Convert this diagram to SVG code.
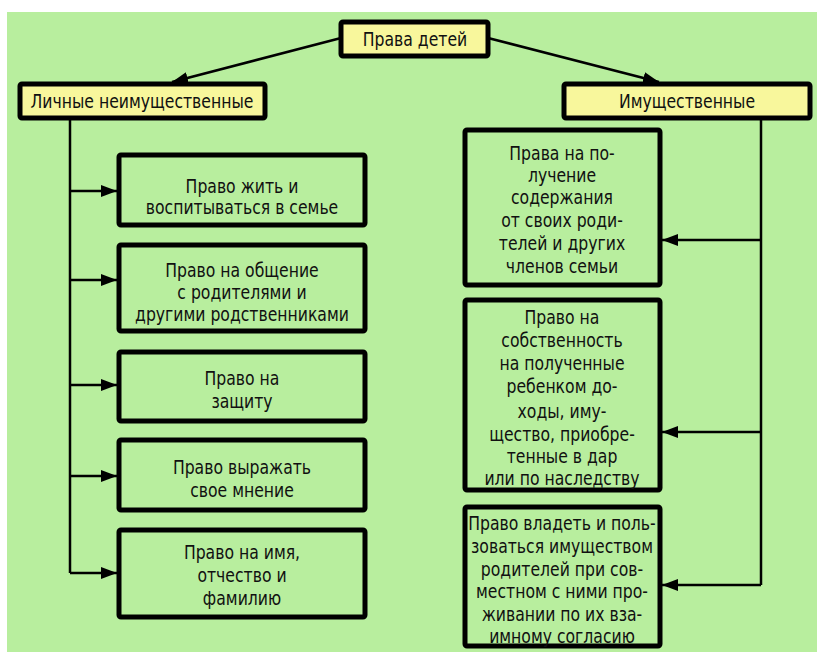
<svg xmlns="http://www.w3.org/2000/svg" width="817" height="653" viewBox="0 0 817 653">
<defs>
<style>
.bg{fill:#b8ee9e}
.box{fill:#b8ee9e;stroke:#000;stroke-width:5}
.ybox{fill:#f8f79c;stroke:#000;stroke-width:5}
.t{font-family:"DejaVu Sans Condensed","DejaVu Sans",sans-serif;font-stretch:condensed;font-size:20px;fill:#111;text-anchor:middle}
.c{stroke:#000;stroke-width:2.5;fill:none}
</style>
<marker id="ah" viewBox="0 0 16 12" refX="16" refY="6" markerWidth="16" markerHeight="12" markerUnits="userSpaceOnUse" orient="auto"><path d="M0,0 L16,6 L0,12 z" fill="#000"/></marker>
</defs>
<rect x="0" y="0" width="817" height="653" fill="#fff"/>
<rect class="bg" x="7" y="12" width="810" height="640"/>
<g id="connectors">
<line class="c" x1="341" y1="38" x2="172" y2="82" marker-end="url(#ah)"/>
<line class="c" x1="488" y1="38" x2="659" y2="82" marker-end="url(#ah)"/>
<polyline class="c" points="70,118 70,573"/>
<line class="c" x1="70" y1="191" x2="117" y2="191" marker-end="url(#ah)"/>
<line class="c" x1="70" y1="280" x2="117" y2="280" marker-end="url(#ah)"/>
<line class="c" x1="70" y1="385" x2="117" y2="385" marker-end="url(#ah)"/>
<line class="c" x1="70" y1="476" x2="117" y2="476" marker-end="url(#ah)"/>
<line class="c" x1="70" y1="573" x2="117" y2="573" marker-end="url(#ah)"/>
<polyline class="c" points="761,118 761,585"/>
<line class="c" x1="761" y1="240" x2="662" y2="240" marker-end="url(#ah)"/>
<line class="c" x1="761" y1="432" x2="662" y2="432" marker-end="url(#ah)"/>
<line class="c" x1="761" y1="585" x2="662" y2="585" marker-end="url(#ah)"/>
</g>
<g id="root">
<rect class="ybox" x="341" y="22" width="147" height="34" rx="2"/>
<text class="t" transform="translate(415,46) scale(0.87,1)">Права детей</text>
</g>
<g id="personal">
<rect class="ybox" x="20" y="84" width="245" height="34" rx="2"/>
<text class="t" transform="translate(142,108) scale(0.87,1)">Личные неимущественные</text>
</g>
<g id="property">
<rect class="ybox" x="564" y="84" width="246" height="34" rx="2"/>
<text class="t" transform="translate(687,108) scale(0.87,1)">Имущественные</text>
</g>
<g id="l1">
<rect class="box" x="119" y="155" width="246" height="70" rx="2"/>
<text class="t" transform="translate(242,193) scale(0.87,1)">Право жить и</text>
<text class="t" transform="translate(242,214) scale(0.87,1)">воспитываться в семье</text>
</g>
<g id="l2">
<rect class="box" x="119" y="245" width="246" height="86" rx="2"/>
<text class="t" transform="translate(242,277) scale(0.87,1)">Право на общение</text>
<text class="t" transform="translate(242,299) scale(0.87,1)">с родителями и</text>
<text class="t" transform="translate(242,321) scale(0.87,1)">другими родственниками</text>
</g>
<g id="l3">
<rect class="box" x="119" y="352" width="246" height="69" rx="2"/>
<text class="t" transform="translate(242,385) scale(0.87,1)">Право на</text>
<text class="t" transform="translate(242,408) scale(0.87,1)">защиту</text>
</g>
<g id="l4">
<rect class="box" x="119" y="440" width="246" height="70" rx="2"/>
<text class="t" transform="translate(242,474) scale(0.87,1)">Право выражать</text>
<text class="t" transform="translate(242,497) scale(0.87,1)">свое мнение</text>
</g>
<g id="l5">
<rect class="box" x="119" y="530" width="246" height="87" rx="2"/>
<text class="t" transform="translate(242,559) scale(0.87,1)">Право на имя,</text>
<text class="t" transform="translate(242,582) scale(0.87,1)">отчество и</text>
<text class="t" transform="translate(242,605) scale(0.87,1)">фамилию</text>
</g>
<g id="r1">
<rect class="box" x="465" y="130" width="195" height="155" rx="2"/>
<text class="t" transform="translate(562,160) scale(0.87,1)">Права на по-</text>
<text class="t" transform="translate(562,182) scale(0.87,1)">лучение</text>
<text class="t" transform="translate(562,204) scale(0.87,1)">содержания</text>
<text class="t" transform="translate(562,227) scale(0.87,1)">от своих роди-</text>
<text class="t" transform="translate(562,250) scale(0.87,1)">телей и других</text>
<text class="t" transform="translate(562,273) scale(0.87,1)">членов семьи</text>
</g>
<g id="r2">
<rect class="box" x="465" y="300" width="195" height="190" rx="2"/>
<text class="t" transform="translate(562,324) scale(0.87,1)">Право на</text>
<text class="t" transform="translate(562,347) scale(0.87,1)">собственность</text>
<text class="t" transform="translate(562,370) scale(0.87,1)">на полученные</text>
<text class="t" transform="translate(562,393) scale(0.87,1)">ребенком до-</text>
<text class="t" transform="translate(562,418) scale(0.87,1)">ходы, иму-</text>
<text class="t" transform="translate(562,441) scale(0.87,1)">щество, приобре-</text>
<text class="t" transform="translate(562,463) scale(0.87,1)">тенные в дар</text>
<text class="t" transform="translate(562,485) scale(0.87,1)">или по наследству</text>
</g>
<g id="r3">
<rect class="box" x="465" y="507" width="195" height="139" rx="2"/>
<text class="t" transform="translate(562,530) scale(0.87,1)">Право владеть и поль-</text>
<text class="t" transform="translate(562,553) scale(0.87,1)">зоваться имуществом</text>
<text class="t" transform="translate(562,576) scale(0.87,1)">родителей при сов-</text>
<text class="t" transform="translate(562,598) scale(0.87,1)">местном с ними про-</text>
<text class="t" transform="translate(562,621) scale(0.87,1)">живании по их вза-</text>
<text class="t" transform="translate(562,643) scale(0.87,1)">имному согласию</text>
</g>
</svg>
